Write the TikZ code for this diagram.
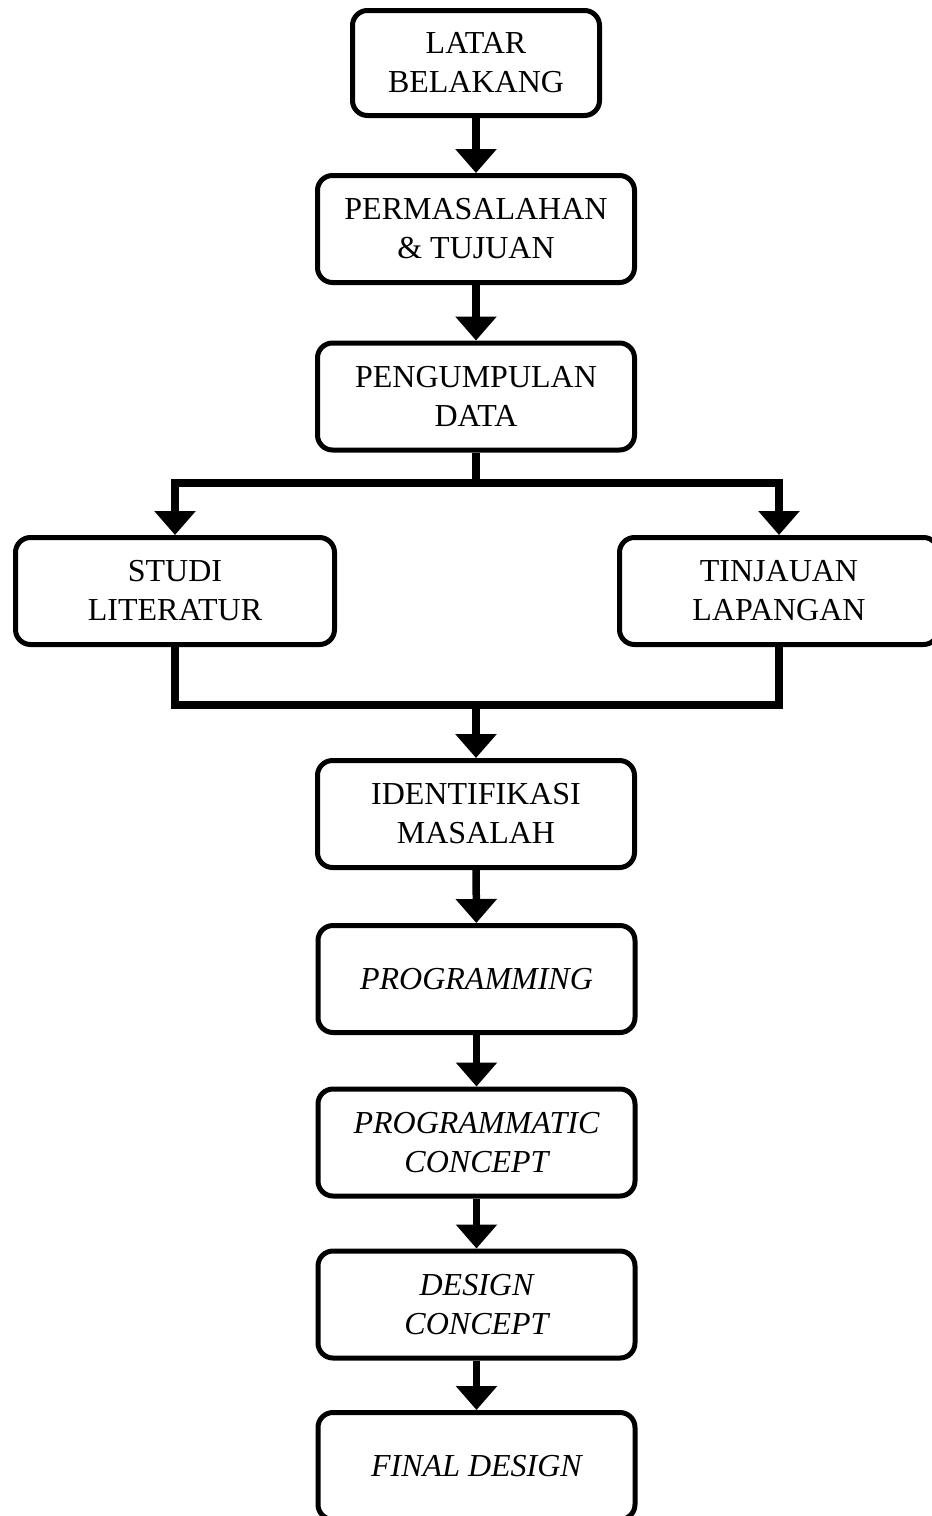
\documentclass[tikz,border=0pt]{standalone}
\usepackage{fontspec}
\setmainfont{Liberation Serif}
\usetikzlibrary{arrows.meta}
\begin{document}
\begin{tikzpicture}[x=1pt,y=-1pt,
  box/.style={draw=black, line width=5pt, rounded corners=15pt, fill=white,
    minimum width=317pt, minimum height=107pt, inner sep=0pt, align=center,
    font=\fontsize{32pt}{39pt}\selectfont},
  itbox/.style={box, font=\fontsize{32pt}{39pt}\selectfont\itshape},
  conn/.style={draw=black, line width=7.5pt, line join=miter},
  arr/.style={conn, -{Triangle[width=40pt,length=24pt]}}
]
\useasboundingbox (0,0) rectangle (932,1516);
\fill[white] (0,0) rectangle (932,1516);

\node[box, minimum width=247pt, minimum height=105pt] (lb) at (476,63) {LATAR\\BELAKANG};
\node[box] (pt) at (476,229) {PERMASALAHAN\\\& TUJUAN};
\node[box] (pd) at (476,396.5) {PENGUMPULAN\\DATA};
\node[box, minimum width=319pt] (st) at (175,591) {STUDI\\LITERATUR};
\node[box, minimum width=319pt] (tl) at (779,591) {TINJAUAN\\LAPANGAN};
\node[box] (im) at (476,814) {IDENTIFIKASI\\MASALAH};
\node[itbox] (pg) at (476.5,979) {PROGRAMMING};
\node[itbox] (pc) at (476.5,1142.5) {PROGRAMMATIC\\CONCEPT};
\node[itbox] (dc) at (476.5,1304.5) {DESIGN\\CONCEPT};
\node[itbox] (fd) at (476.5,1466) {FINAL DESIGN};

\coordinate (split) at (476,483);
\coordinate (join) at (476,705);

\draw[arr] (lb) -- (pt);
\draw[arr] (pt) -- (pd);
\draw[conn] (pd.south) -- (split);
\draw[arr] (split) -| (st.north);
\draw[arr] (split) -| (tl.north);
\draw[conn] (st.south) |- (join);
\draw[conn] (tl.south) |- (join);
\draw[arr] (join) -- (im.north);
\draw[arr] (im) -- (pg);
\draw[arr] (pg) -- (pc);
\draw[arr] (pc) -- (dc);
\draw[arr] (dc) -- (fd);
\end{tikzpicture}
\end{document}
